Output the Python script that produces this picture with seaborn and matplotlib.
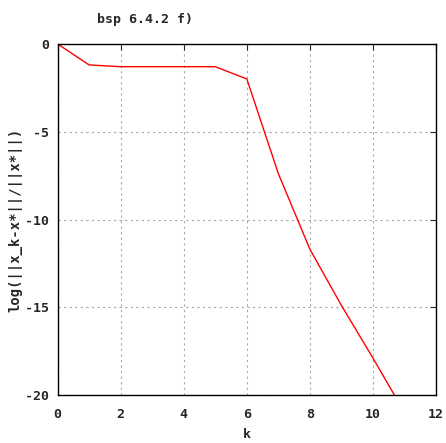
import matplotlib
matplotlib.use("Agg")
import matplotlib.pyplot as plt
import seaborn as sns
import pandas as pd

# iteration index and relative error (log scale)
k_values = [0, 1, 2, 3, 4, 5, 6, 7, 8, 9, 10, 11]
log_rel_error = [0.0, -1.2, -1.3, -1.3, -1.3, -1.3, -2.0, -7.4, -11.7, -14.9, -17.9, -21.0]
x_ticks = [0, 2, 4, 6, 8, 10, 12]
y_ticks = [0, -5, -10, -15, -20]

df = pd.DataFrame({"k": k_values, "err": log_rel_error})

sns.set_style("white")
plt.rcParams["font.family"] = ["DejaVu Sans Mono"]
plt.rcParams["font.weight"] = "bold"

fig = plt.figure(figsize=(4.46, 4.43), dpi=100)
ax = fig.add_axes([0.129, 0.108, 0.849, 0.793])

sns.lineplot(data=df, x="k", y="err", ax=ax, color="red", linewidth=1.0)

ax.set_xlim(0, 12)
ax.set_ylim(-20, 0)
ax.set_xticks(x_ticks)
ax.set_yticks(y_ticks)
ax.set_xticklabels([str(t) for t in x_ticks], fontsize=9.5, fontweight="bold")
ax.set_yticklabels([str(t) for t in y_ticks], fontsize=9.5, fontweight="bold")
ax.grid(True, color="#a8a8a8", linestyle=(0, (2, 3)), linewidth=0.8)
ax.tick_params(direction="in", length=4, width=0.8, top=True, right=True, pad=6)
ax.tick_params(axis="x", pad=9)
for s in ax.spines.values():
    s.set_color("black")
    s.set_linewidth(1.0)

ax.set_xlabel("k", fontsize=9.5, fontweight="bold", labelpad=5)
ax.set_ylabel("log(||x_k-x*||/||x*||)", fontsize=10, fontweight="bold", labelpad=2)
fig.text(0.325, 0.955, "bsp 6.4.2 f)", ha="center", va="center", fontsize=9.5, fontweight="bold")

fig.savefig("out.png", dpi=100)
